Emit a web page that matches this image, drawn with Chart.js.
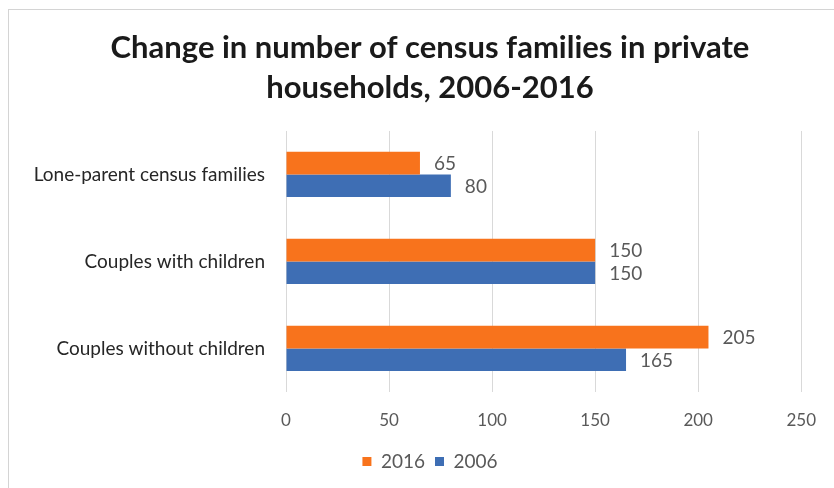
<!DOCTYPE html>
<html>
<head>
<meta charset="utf-8">
<script src="https://cdn.jsdelivr.net/npm/chart.js@4/dist/chart.umd.min.js"></script>
<style>
  html, body { margin: 0; padding: 0; background: #ffffff; overflow: hidden; }
  #wrap { position: relative; width: 834px; height: 488px; }
  #frame { position: absolute; left: 8px; top: 9px; width: 900px; height: 600px;
           border-top: 1px solid #d4d4d4; border-left: 1px solid #d4d4d4; pointer-events: none; }
  canvas { position: absolute; left: 0; top: 0; }
</style>
</head>
<body>
<div id="wrap">
  <canvas id="chart" width="834" height="488"></canvas>
  <div id="frame"></div>
</div>
<script>
// Census family types and counts (thousands) for the two census years
const categories = ['Lone-parent census families', 'Couples with children', 'Couples without children'];
const values2016 = [65, 150, 205];
const values2006 = [80, 150, 165];
const xTicks = [0, 50, 100, 150, 200, 250];
const titleLines = ['Change in number of census families in private', 'households, 2006-2016'];

const FONT = 'Lato, "Open Sans", sans-serif';

// Writes each bar's value just past its end
const valueLabels = {
  id: 'valueLabels',
  afterDatasetsDraw(chart) {
    const ctx = chart.ctx;
    ctx.save();
    ctx.font = '19px ' + FONT;
    ctx.fillStyle = '#595959';
    ctx.textAlign = 'left';
    ctx.textBaseline = 'middle';
    chart.data.datasets.forEach((ds, i) => {
      chart.getDatasetMeta(i).data.forEach((bar, j) => {
        ctx.fillText(String(ds.data[j]), bar.x + 14, bar.y + 1);
      });
    });
    ctx.restore();
  }
};

// Let the long category names run into the left padding instead of being clipped
const widenCategoryAxis = {
  id: 'widenCategoryAxis',
  afterLayout(chart) {
    chart.scales.y.left = 0;
  }
};

new Chart(document.getElementById('chart'), {
  type: 'bar',
  data: {
    labels: categories,
    datasets: [
      { label: '2016', data: values2016, backgroundColor: '#F8731C', categoryPercentage: 0.52, barPercentage: 1.0 },
      { label: '2006', data: values2006, backgroundColor: '#3E6EB4', categoryPercentage: 0.52, barPercentage: 1.0 }
    ]
  },
  options: {
    indexAxis: 'y',
    responsive: false,
    animation: false,
    devicePixelRatio: 1,
    layout: { padding: { left: 56, right: 30, top: 10, bottom: 7 } },
    plugins: {
      title: {
        display: true,
        text: titleLines,
        color: '#1a1a1a',
        font: { family: FONT, size: 31, weight: 'bold', lineHeight: 1.29 },
        padding: { top: 18, bottom: 23 }
      },
      legend: {
        position: 'bottom',
        labels: {
          color: '#595959',
          font: { family: FONT, size: 19 },
          boxWidth: 9,
          boxHeight: 9,
          padding: 10
        }
      },
      tooltip: { enabled: false }
    },
    scales: {
      x: {
        min: 0,
        max: 250,
        afterBuildTicks(scale) { scale.ticks = xTicks.map(v => ({ value: v })); },
        afterFit(scale) { scale.height = 50; },
        grid: { color: '#d9d9d9', drawTicks: false },
        border: { display: false },
        ticks: { color: '#595959', font: { family: FONT, size: 17 }, padding: 18 }
      },
      y: {
        afterFit(scale) { scale.width = 230; },
        grid: { display: false, drawTicks: false },
        border: { display: false },
        ticks: { color: '#262626', font: { family: FONT, size: 19 }, padding: 21 }
      }
    }
  },
  plugins: [valueLabels, widenCategoryAxis]
});
</script>
</body>
</html>
